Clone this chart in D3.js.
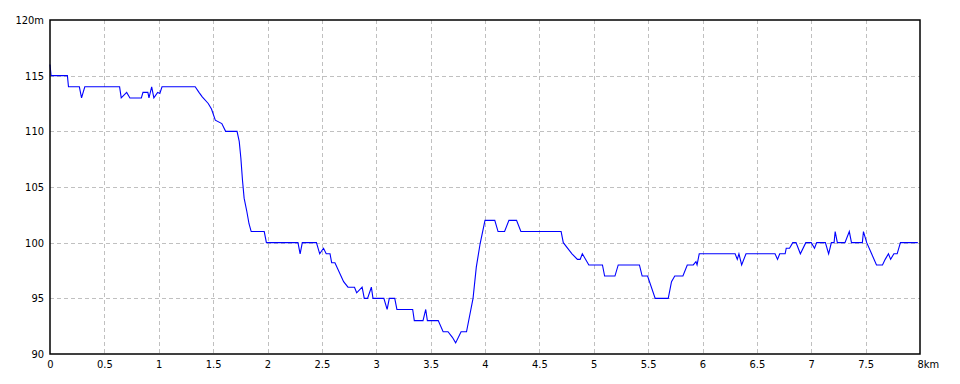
<!DOCTYPE html>
<html>
<head>
<meta charset="utf-8">
<script src="https://cdn.jsdelivr.net/npm/d3@7"></script>
<style>
  body { margin: 0; background: #fff; }
  .tick text { font-family: "DejaVu Sans Condensed", "Liberation Sans Narrow", sans-serif; font-size: 11px; fill: #000; }
</style>
</head>
<body>
<div id="chart"></div>
<script>
// distance along route (km) and elevation (m)
var distKm = [0, 0.01, 0.16, 0.17, 0.27, 0.29, 0.32, 0.64, 0.655, 0.705, 0.735, 0.84, 0.855, 0.90, 0.91, 0.935, 0.955, 0.99, 1.01, 1.03,
  1.335, 1.37, 1.40, 1.455, 1.485, 1.52, 1.58, 1.615, 1.72, 1.74, 1.755, 1.77, 1.785, 1.81, 1.83, 1.85, 1.97, 1.99,
  2.28, 2.30, 2.32, 2.45, 2.48, 2.515, 2.54, 2.575, 2.59, 2.62, 2.70, 2.74, 2.80, 2.82, 2.87, 2.89, 2.92, 2.955, 2.97,
  3.07, 3.10, 3.12, 3.17, 3.19, 3.335, 3.35, 3.43, 3.455, 3.47, 3.57, 3.615, 3.66, 3.70, 3.73, 3.78, 3.83, 3.89, 3.92, 3.955,
  4.0, 4.09, 4.12, 4.18, 4.22, 4.29, 4.33, 4.70, 4.72, 4.80, 4.85, 4.875, 4.895, 4.955,
  5.08, 5.10, 5.195, 5.225, 5.42, 5.445, 5.495, 5.565, 5.685, 5.715, 5.745, 5.82, 5.86, 5.915, 5.94, 5.95, 5.97,
  6.30, 6.32, 6.335, 6.36, 6.40, 6.667, 6.69, 6.71, 6.76, 6.77, 6.80, 6.83, 6.86, 6.90, 6.95,
  7.0, 7.03, 7.05, 7.13, 7.16, 7.185, 7.21, 7.22, 7.24, 7.31, 7.35, 7.37, 7.47, 7.48, 7.51, 7.555, 7.60, 7.655, 7.68, 7.71, 7.73, 7.76, 7.79, 7.82, 7.98];
var elevM = [116, 115, 115, 114, 114, 113, 114, 114, 113, 113.5, 113, 113, 113.5, 113.5, 113, 114, 113, 113.5, 113.4, 114,
  114, 113.5, 113.1, 112.5, 112, 111, 110.7, 110, 110, 109.1, 107.6, 105.6, 104, 102.8, 101.7, 101, 101, 100,
  100, 99, 100, 100, 99, 99.5, 99, 99, 98.2, 98.2, 96.5, 96, 96, 95.5, 96, 95, 95, 96, 95,
  95, 94, 95, 95, 94, 94, 93, 93, 94, 93, 93, 92, 92, 91.5, 91, 92, 92, 95, 97.8, 99.9,
  102, 102, 101, 101, 102, 102, 101, 101, 100, 99, 98.5, 98.5, 99, 98,
  98, 97, 97, 98, 98, 97, 97, 95, 95, 96.5, 97, 97, 98, 98, 98.3, 98, 99,
  99, 98.5, 99, 98, 99, 99, 98.5, 99, 99, 99.5, 99.5, 100, 100, 99, 100,
  100, 99.5, 100, 100, 99, 100, 100, 101, 100, 100, 101, 100, 100, 101, 100, 99, 98, 98, 98.5, 99, 98.5, 99, 99, 100, 100];

var xTicks = d3.range(0, 8.01, 0.5);
var yTicks = [90, 95, 100, 105, 110, 115, 120];
var xUnit = "km", yUnit = "m";

var width = 960, height = 384;
var margin = {left: 50, top: 20, right: 40, bottom: 30};

var svg = d3.select("#chart").append("svg")
    .attr("width", width)
    .attr("height", height);

var x = d3.scaleLinear().domain([0, 8]).range([margin.left, width - margin.right]);
var y = d3.scaleLinear().domain([90, 120]).range([height - margin.bottom, margin.top]);

//Grid lines (inner ticks only)
var grid = svg.append("g").attr("class", "grid")
    .attr("stroke", "#c0c0c0")
    .attr("stroke-dasharray", "4,3")
    .attr("shape-rendering", "crispEdges");
grid.selectAll("line.v")
    .data(xTicks.slice(1, -1))
    .enter().append("line")
    .attr("x1", function(d) { return Math.round(x(d)) + 0.5; })
    .attr("x2", function(d) { return Math.round(x(d)) + 0.5; })
    .attr("y1", y(120)).attr("y2", y(90));
grid.selectAll("line.h")
    .data(yTicks.slice(1, -1))
    .enter().append("line")
    .attr("y1", function(d) { return Math.round(y(d)) + 0.5; })
    .attr("y2", function(d) { return Math.round(y(d)) + 0.5; })
    .attr("x1", x(0)).attr("x2", x(8));

//Profile line
var line = d3.line()
    .x(function(d, i) { return x(distKm[i]); })
    .y(function(d, i) { return y(elevM[i]); });
svg.append("path")
    .datum(elevM)
    .attr("d", line)
    .attr("fill", "none")
    .attr("stroke", "#0000ff")
    .attr("stroke-width", 1.1);

//Frame
svg.append("rect")
    .attr("x", x(0)).attr("y", y(120))
    .attr("width", x(8) - x(0)).attr("height", y(90) - y(120))
    .attr("fill", "none")
    .attr("stroke", "#000")
    .attr("stroke-width", 1.5);

//Axes (labels only)
var xAxis = d3.axisBottom(x)
    .tickValues(xTicks)
    .tickSize(0)
    .tickPadding(6)
    .tickFormat(function(d) { return d3.format("")(d); });
var gx = svg.append("g")
    .attr("transform", "translate(0," + y(90) + ")")
    .call(xAxis);
gx.select(".domain").remove();
gx.selectAll(".tick text")
    .filter(function(d) { return d === 8; })
    .attr("text-anchor", "start")
    .attr("dx", "-3")
    .text(function(d) { return d + xUnit; });

var yAxis = d3.axisLeft(y)
    .tickValues(yTicks)
    .tickSize(0)
    .tickPadding(6)
    .tickFormat(function(d) { return d === 120 ? d + yUnit : d; });
var gy = svg.append("g")
    .attr("transform", "translate(" + x(0) + ",0)")
    .call(yAxis);
gy.select(".domain").remove();
</script>
</body>
</html>
